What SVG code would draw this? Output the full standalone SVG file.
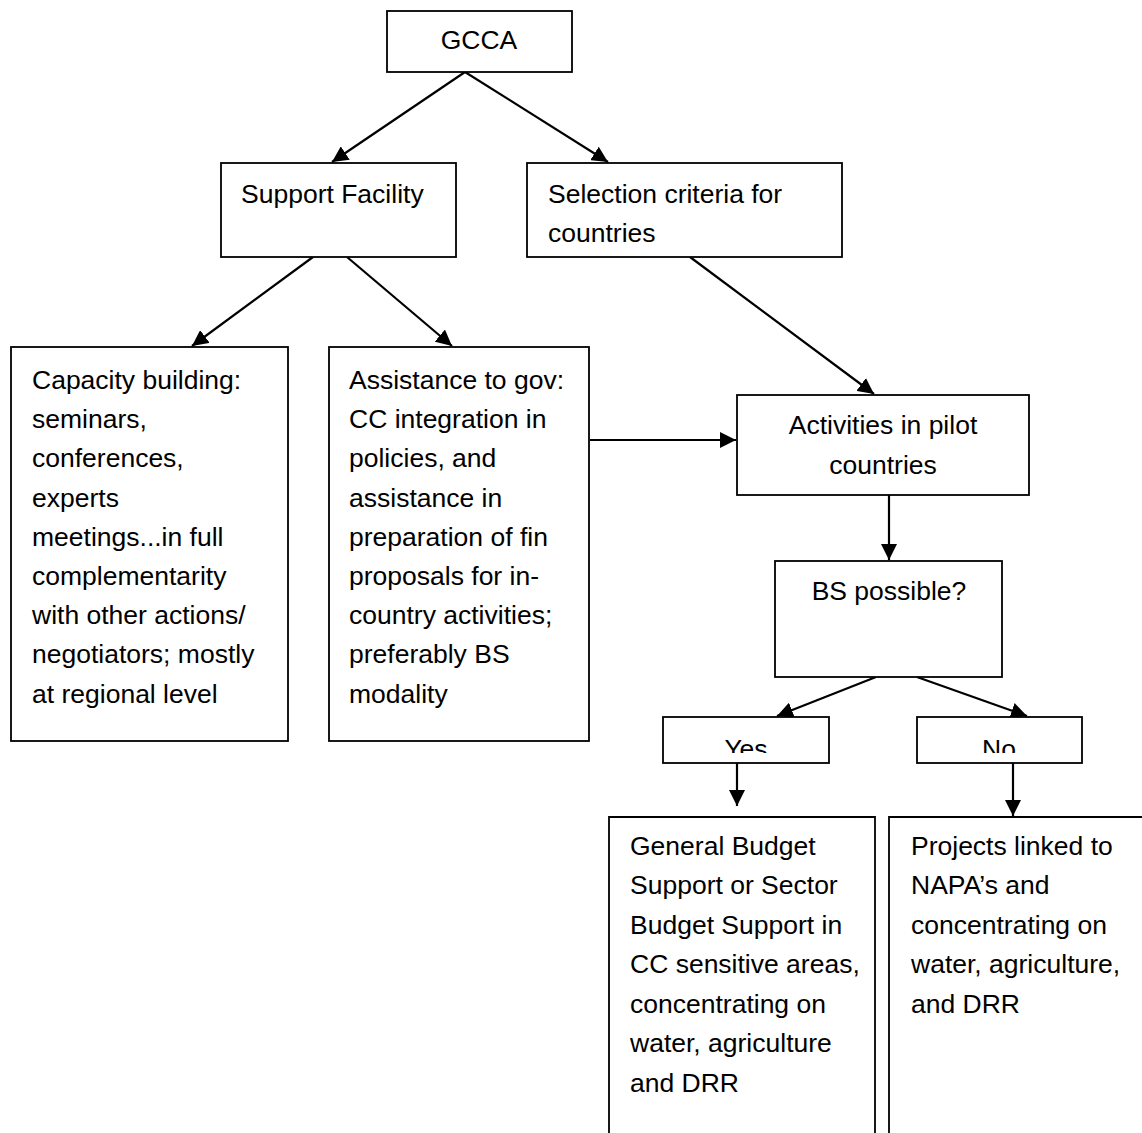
<svg xmlns="http://www.w3.org/2000/svg" width="1142" height="1133" viewBox="0 0 1142 1133">
<style>
.box{fill:#fff;stroke:#000;stroke-width:1.8}
.t{font-family:"Liberation Sans",Arial,sans-serif;font-size:26.5px;fill:#000}
.c{text-anchor:middle}
.ln{stroke:#000;stroke-width:2.2;fill:none;marker-end:url(#ah)}
</style>
<defs>
<marker id="ah" markerUnits="userSpaceOnUse" markerWidth="16" markerHeight="16" refX="15" refY="7.5" orient="auto" viewBox="0 0 15 15">
<path d="M0,0 L15,7.5 L0,15 z" fill="#000"/>
</marker>
<clipPath id="clipYes"><rect x="663" y="717" width="166" height="36"/></clipPath>
<clipPath id="clipNo"><rect x="917" y="717" width="165" height="36"/></clipPath>
</defs>
<rect width="1142" height="1133" fill="#fff"/>
<g id="connectors">
<line class="ln" x1="465" y1="72" x2="332" y2="162"/>
<line class="ln" x1="465" y1="72" x2="608" y2="162"/>
<line class="ln" x1="313" y1="257" x2="192" y2="346"/>
<line class="ln" x1="347" y1="257" x2="452" y2="346"/>
<line class="ln" x1="690" y1="257" x2="874" y2="394"/>
<line class="ln" x1="590" y1="440" x2="736" y2="440"/>
<line class="ln" x1="889" y1="495" x2="889" y2="560"/>
<line class="ln" x1="876" y1="677" x2="777" y2="716"/>
<line class="ln" x1="917" y1="677" x2="1027" y2="716"/>
<line class="ln" x1="737" y1="763" x2="737" y2="806"/>
<line class="ln" x1="1013" y1="763" x2="1013" y2="816"/>
</g>
<g id="gcca">
<rect class="box" x="387" y="11" width="185" height="61"/>
<text class="t c" x="479" y="49">GCCA</text>
</g>
<g id="support-facility">
<rect class="box" x="221" y="163" width="235" height="94"/>
<text class="t" x="241" y="203">Support Facility</text>
</g>
<g id="selection-criteria">
<rect class="box" x="527" y="163" width="315" height="94"/>
<text class="t" x="548" y="203">Selection criteria for</text>
<text class="t" x="548" y="242">countries</text>
</g>
<g id="capacity-building">
<rect class="box" x="11" y="347" width="277" height="394"/>
<text class="t">
<tspan x="32" y="389">Capacity building:</tspan>
<tspan x="32" y="428">seminars,</tspan>
<tspan x="32" y="467">conferences,</tspan>
<tspan x="32" y="507">experts</tspan>
<tspan x="32" y="546">meetings...in full</tspan>
<tspan x="32" y="585">complementarity</tspan>
<tspan x="32" y="624">with other actions/</tspan>
<tspan x="32" y="663">negotiators; mostly</tspan>
<tspan x="32" y="703">at regional level</tspan>
</text>
</g>
<g id="assistance">
<rect class="box" x="329" y="347" width="260" height="394"/>
<text class="t">
<tspan x="349" y="389">Assistance to gov:</tspan>
<tspan x="349" y="428">CC integration in</tspan>
<tspan x="349" y="467">policies, and</tspan>
<tspan x="349" y="507">assistance in</tspan>
<tspan x="349" y="546">preparation of fin</tspan>
<tspan x="349" y="585">proposals for in-</tspan>
<tspan x="349" y="624">country activities;</tspan>
<tspan x="349" y="663">preferably BS</tspan>
<tspan x="349" y="703">modality</tspan>
</text>
</g>
<g id="activities">
<rect class="box" x="737" y="395" width="292" height="100"/>
<text class="t c" x="883" y="434">Activities in pilot</text>
<text class="t c" x="883" y="474">countries</text>
</g>
<g id="bs-possible">
<rect class="box" x="775" y="561" width="227" height="116"/>
<text class="t c" x="889" y="600">BS possible?</text>
</g>
<g id="yes">
<rect class="box" x="663" y="717" width="166" height="46"/>
<text class="t c" x="746" y="758" clip-path="url(#clipYes)">Yes</text>
</g>
<g id="no">
<rect class="box" x="917" y="717" width="165" height="46"/>
<text class="t c" x="999" y="758" clip-path="url(#clipNo)">No</text>
</g>
<g id="general-budget">
<path class="box" d="M609,1140 V817 H875 V1140" fill="none"/>
<text class="t">
<tspan x="630" y="855">General Budget</tspan>
<tspan x="630" y="894">Support or Sector</tspan>
<tspan x="630" y="934">Budget Support in</tspan>
<tspan x="630" y="973">CC sensitive areas,</tspan>
<tspan x="630" y="1013">concentrating on</tspan>
<tspan x="630" y="1052">water, agriculture</tspan>
<tspan x="630" y="1092">and DRR</tspan>
</text>
</g>
<g id="projects">
<path class="box" d="M889,1140 V817 H1150" fill="none"/>
<text class="t">
<tspan x="911" y="855">Projects linked to</tspan>
<tspan x="911" y="894">NAPA’s and</tspan>
<tspan x="911" y="934">concentrating on</tspan>
<tspan x="911" y="973">water, agriculture,</tspan>
<tspan x="911" y="1013">and DRR</tspan>
</text>
</g>
</svg>
